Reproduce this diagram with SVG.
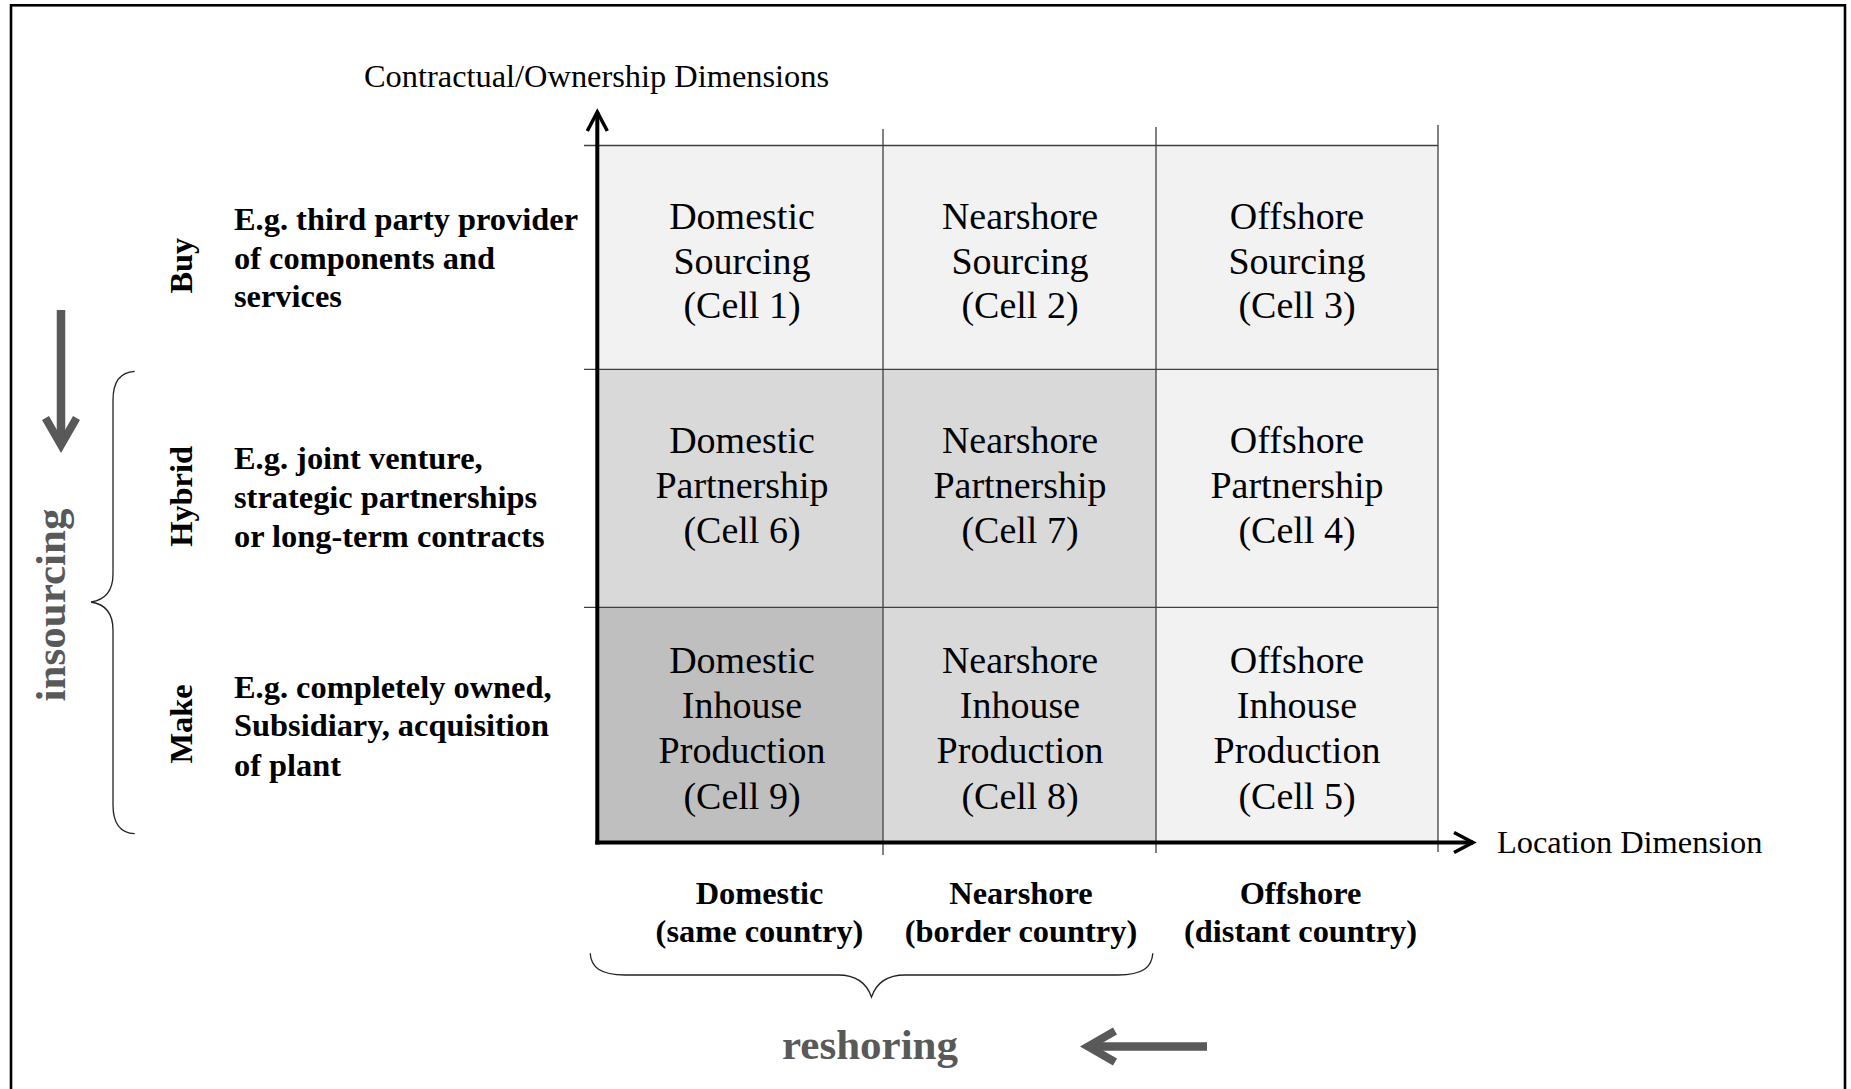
<svg xmlns="http://www.w3.org/2000/svg" width="1851" height="1089" viewBox="0 0 1851 1089">
<style>
.t{font-family:"Liberation Serif","Times New Roman",serif;fill:#000}
.cell{font-size:38px;text-anchor:middle}
.b{font-weight:bold;font-size:32.4px}
.mid{text-anchor:middle}
.ax{font-size:32.4px}
.big{font-weight:bold;font-size:43px;fill:#595959;text-anchor:middle}
.grid{stroke:#404040;stroke-width:1.3;fill:none}
.axis{stroke:#000;stroke-width:4;fill:none}
.brace{stroke:#222;stroke-width:1.3;fill:none}
.garrow{stroke:#595959;stroke-width:8.5;fill:none}
.light{fill:#f2f2f2}.medium{fill:#d9d9d9}.dark{fill:#bfbfbf}
</style>
<defs>
<marker id="axhead" markerUnits="userSpaceOnUse" viewBox="-24 -14 28 28" markerWidth="28" markerHeight="28" refX="0" refY="0" orient="auto">
<path d="M-19,-10 L0,0 L-19,10" fill="none" stroke="#000" stroke-width="3.5"/>
</marker>
<marker id="ghead" markerUnits="userSpaceOnUse" viewBox="-34 -22 46 44" markerWidth="46" markerHeight="44" refX="0" refY="0" orient="auto">
<path d="M-27,-15.5 L0,0 L-27,15.5" fill="none" stroke="#595959" stroke-width="8"/>
</marker>
</defs>
<rect width="1851" height="1089" fill="#fff"/>
<rect id="frame" x="11" y="5.3" width="1834" height="1100" fill="none" stroke="#000" stroke-width="2.6"/>

<g id="cells">
<g id="cell1"><rect class="light" x="597" y="145.5" width="286" height="224"/>
<text class="t cell"><tspan x="742" y="229">Domestic</tspan><tspan x="742" y="273.7">Sourcing</tspan><tspan x="742" y="318.4">(Cell 1)</tspan></text></g>
<g id="cell2"><rect class="light" x="883" y="145.5" width="273" height="224"/>
<text class="t cell"><tspan x="1020" y="229">Nearshore</tspan><tspan x="1020" y="273.7">Sourcing</tspan><tspan x="1020" y="318.4">(Cell 2)</tspan></text></g>
<g id="cell3"><rect class="light" x="1156" y="145.5" width="282" height="224"/>
<text class="t cell"><tspan x="1297" y="229">Offshore</tspan><tspan x="1297" y="273.7">Sourcing</tspan><tspan x="1297" y="318.4">(Cell 3)</tspan></text></g>
<g id="cell6"><rect class="medium" x="597" y="369.3" width="286" height="238"/>
<text class="t cell"><tspan x="742" y="453.2">Domestic</tspan><tspan x="742" y="498.2">Partnership</tspan><tspan x="742" y="543.2">(Cell 6)</tspan></text></g>
<g id="cell7"><rect class="medium" x="883" y="369.3" width="273" height="238"/>
<text class="t cell"><tspan x="1020" y="453.2">Nearshore</tspan><tspan x="1020" y="498.2">Partnership</tspan><tspan x="1020" y="543.2">(Cell 7)</tspan></text></g>
<g id="cell4"><rect class="light" x="1156" y="369.3" width="282" height="238"/>
<text class="t cell"><tspan x="1297" y="453.2">Offshore</tspan><tspan x="1297" y="498.2">Partnership</tspan><tspan x="1297" y="543.2">(Cell 4)</tspan></text></g>
<g id="cell9"><rect class="dark" x="597" y="607.3" width="286" height="235"/>
<text class="t cell"><tspan x="742" y="672.7">Domestic</tspan><tspan x="742" y="718">Inhouse</tspan><tspan x="742" y="763.3">Production</tspan><tspan x="742" y="808.7">(Cell 9)</tspan></text></g>
<g id="cell8"><rect class="medium" x="883" y="607.3" width="273" height="235"/>
<text class="t cell"><tspan x="1020" y="672.7">Nearshore</tspan><tspan x="1020" y="718">Inhouse</tspan><tspan x="1020" y="763.3">Production</tspan><tspan x="1020" y="808.7">(Cell 8)</tspan></text></g>
<g id="cell5"><rect class="light" x="1156" y="607.3" width="282" height="235"/>
<text class="t cell"><tspan x="1297" y="672.7">Offshore</tspan><tspan x="1297" y="718">Inhouse</tspan><tspan x="1297" y="763.3">Production</tspan><tspan x="1297" y="808.7">(Cell 5)</tspan></text></g>
</g>

<g id="gridlines">
<line class="grid" x1="584" y1="145.5" x2="1438" y2="145.5"/>
<line class="grid" x1="584" y1="369.3" x2="1438" y2="369.3"/>
<line class="grid" x1="584" y1="607.3" x2="1438" y2="607.3"/>
<line class="grid" x1="883" y1="129" x2="883" y2="855"/>
<line class="grid" x1="1156" y1="127" x2="1156" y2="853"/>
<line class="grid" x1="1438" y1="125" x2="1438" y2="852"/>
</g>

<g id="connectors">
<line id="y-axis" class="axis" x1="597.3" y1="844.5" x2="597.3" y2="112" marker-end="url(#axhead)"/>
<line id="x-axis" class="axis" x1="595.3" y1="842.5" x2="1473" y2="842.5" marker-end="url(#axhead)"/>
<line id="insourcing-arrow" class="garrow" x1="61" y1="310" x2="61" y2="445" marker-end="url(#ghead)"/>
<line id="reshoring-arrow" class="garrow" x1="1207" y1="1046.5" x2="1088" y2="1046.5" marker-end="url(#ghead)"/>
<path id="left-brace" class="brace" d="M134.7,371.3 C120,372 113,381 113,400 L113,574 C113,592 104,600 91,602 C104,604 113,612 113,630 L113,805 C113,824 120,833 134.7,833.7"/>
<path id="bottom-brace" class="brace" d="M590.2,953.3 C591,967 600,975 625,975 L838,975 C857,975 867,984 871.5,997 C876,984 886,975 905,975 L1118,975 C1143,975 1152,967 1152.8,953.3"/>
</g>

<g id="axis-labels">
<text id="y-label" class="t ax" x="364" y="87">Contractual/Ownership Dimensions</text>
<text id="x-label" class="t ax" x="1497" y="853">Location Dimension</text>
</g>

<g id="row-buy">
<text class="t b mid" transform="translate(192,265.6) rotate(-90)">Buy</text>
<text class="t b"><tspan x="234" y="230">E.g. third party provider</tspan><tspan x="234" y="268.7">of components and</tspan><tspan x="234" y="307.4">services</tspan></text>
</g>
<g id="row-hybrid">
<text class="t b mid" transform="translate(192,496.4) rotate(-90)">Hybrid</text>
<text class="t b"><tspan x="234" y="469.4">E.g. joint venture,</tspan><tspan x="234" y="508.3">strategic partnerships</tspan><tspan x="234" y="547">or long-term contracts</tspan></text>
</g>
<g id="row-make">
<text class="t b mid" transform="translate(192,724) rotate(-90)">Make</text>
<text class="t b"><tspan x="234" y="697.5">E.g. completely owned,</tspan><tspan x="234" y="736.2">Subsidiary, acquisition</tspan><tspan x="234" y="775.5">of plant</tspan></text>
</g>

<g id="col-domestic"><text class="t b mid"><tspan x="759.5" y="903.5">Domestic</tspan><tspan x="759.5" y="942">(same country)</tspan></text></g>
<g id="col-nearshore"><text class="t b mid"><tspan x="1021" y="903.5">Nearshore</tspan><tspan x="1021" y="942">(border country)</tspan></text></g>
<g id="col-offshore"><text class="t b mid"><tspan x="1300.5" y="903.5">Offshore</tspan><tspan x="1300.5" y="942">(distant country)</tspan></text></g>

<g id="insourcing"><text class="t big" transform="translate(65,605) rotate(-90)">insourcing</text></g>
<g id="reshoring"><text class="t big" x="870" y="1059">reshoring</text></g>
</svg>
